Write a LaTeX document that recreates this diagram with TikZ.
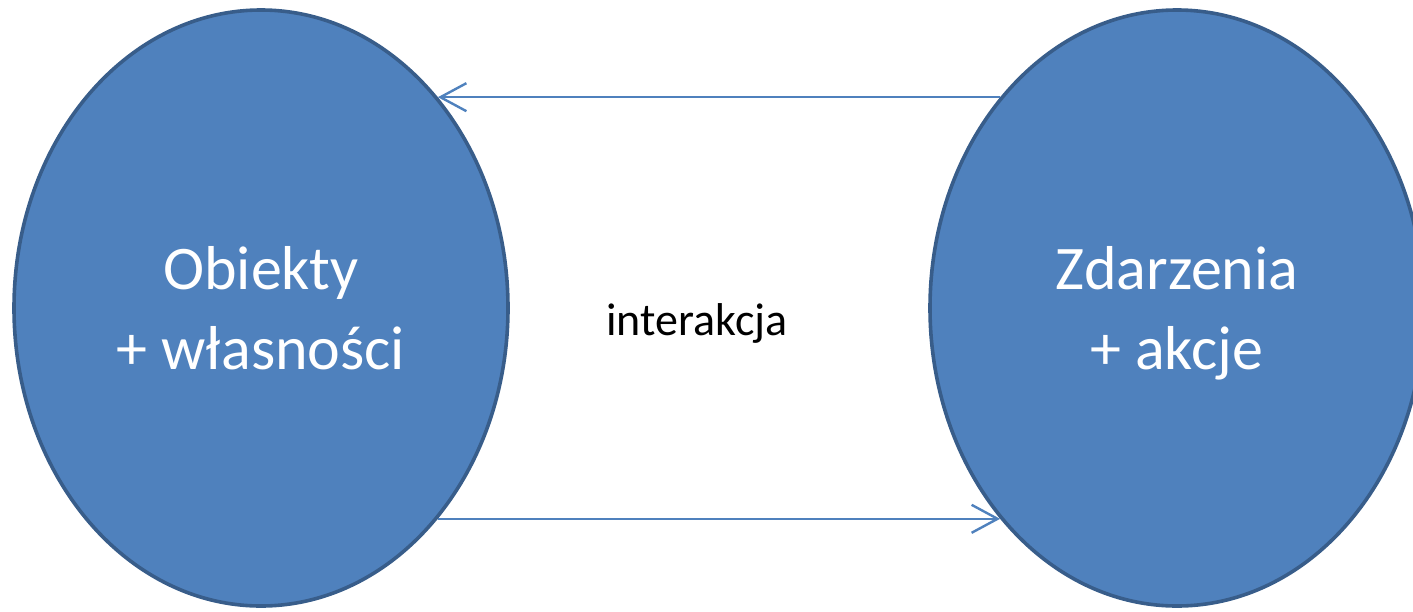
\documentclass[tikz,border=0pt]{standalone}
\usepackage{fontspec}
\setmainfont{Carlito}
\usetikzlibrary{shapes.geometric,arrows.meta}
\definecolor{fillBlue}{HTML}{4F81BD}
\definecolor{borderBlue}{HTML}{385D8A}
\begin{document}
\begin{tikzpicture}[x=0.5pt, y=-0.5pt, line width=1.2pt,
		>={Straight Barb[length=13pt, width=14pt]}]

		%描画範囲
		\useasboundingbox (0, 0) rectangle (1413, 611);
		\tikzset {
			styleEllipses/.style= {
				draw=borderBlue, fill=fillBlue, ellipse,
				line width=1.8pt, inner sep=0pt,
				minimum width=247pt, minimum height=298pt,
				text=white, align=center, text depth=0pt,
				font=\fontsize{31}{40}\selectfont
			}		%楕円の形と色
		};
		%楕円を書く
		\node [styleEllipses] (obiekty) at (261, 308) {Obiekty\\+ własności};
		\node [styleEllipses] (zdarzenia) at (1177, 308) {Zdarzenia\\+ akcje};

		%矢印を書く
		\draw [->, fillBlue] (zdarzenia.130) -- (obiekty.50);
		\draw [->, fillBlue] (obiekty.-50) -- (zdarzenia.-130);

		%真ん中の文字
		\node [font=\fontsize{23}{28}\selectfont] (interakcja) at (697, 323) {interakcja};

	\end{tikzpicture}
\end{document}
